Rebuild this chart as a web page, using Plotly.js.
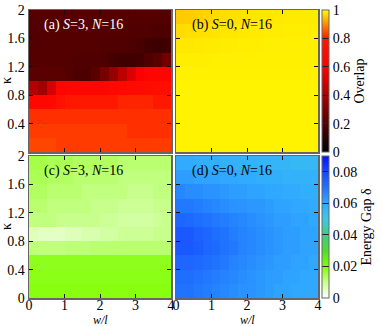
<!DOCTYPE html>
<html>
<head>
<meta charset="utf-8">
<script src="https://cdn.plot.ly/plotly-3.0.1.min.js"></script>
<style>
  html, body { margin: 0; padding: 0; background: #fff; }
  #chart { width: 382px; height: 326px; }
</style>
</head>
<body>
<div id="chart"></div>
<script>
// cell centres: w/l (16 columns) and kappa (10 rows)
const wl = [0.125, 0.375, 0.625, 0.875, 1.125, 1.375, 1.625, 1.875,
            2.125, 2.375, 2.625, 2.875, 3.125, 3.375, 3.625, 3.875];
const kappa = [0.1, 0.3, 0.5, 0.7, 0.9, 1.1, 1.3, 1.5, 1.7, 1.9];

// (a) overlap, S=3 (rows from kappa=0.1 up to 1.9)
const overlapS3 = [
  [0.84,0.84,0.84,0.83,0.83,0.83,0.83,0.83,0.83,0.83,0.83,0.83,0.83,0.83,0.83,0.83],
  [0.83,0.83,0.83,0.83,0.83,0.83,0.83,0.83,0.83,0.83,0.83,0.82,0.82,0.82,0.82,0.82],
  [0.82,0.82,0.82,0.82,0.82,0.82,0.82,0.82,0.82,0.82,0.82,0.82,0.82,0.82,0.82,0.82],
  [0.66,0.66,0.67,0.74,0.79,0.80,0.80,0.80,0.80,0.80,0.81,0.81,0.81,0.81,0.80,0.80],
  [0.42,0.38,0.50,0.64,0.66,0.66,0.66,0.66,0.66,0.67,0.67,0.68,0.68,0.70,0.72,0.72],
  [0.21,0.21,0.21,0.21,0.20,0.18,0.18,0.21,0.28,0.35,0.44,0.52,0.60,0.63,0.64,0.64],
  [0.20,0.20,0.20,0.20,0.20,0.19,0.19,0.19,0.18,0.16,0.15,0.15,0.16,0.19,0.21,0.27],
  [0.20,0.20,0.20,0.20,0.20,0.20,0.20,0.20,0.19,0.19,0.19,0.18,0.17,0.15,0.14,0.15],
  [0.20,0.20,0.20,0.20,0.20,0.20,0.20,0.20,0.20,0.20,0.20,0.19,0.19,0.19,0.18,0.18],
  [0.20,0.20,0.20,0.20,0.20,0.20,0.20,0.20,0.20,0.20,0.20,0.20,0.20,0.20,0.20,0.20]
];

// (b) overlap, S=0
const overlapS0 = [
  [0.99,0.99,0.99,0.99,0.99,0.99,0.99,0.99,0.99,0.99,0.99,0.99,0.99,0.99,0.99,0.99],
  [0.99,0.99,0.99,0.99,0.99,0.99,0.99,0.99,0.99,0.99,0.99,0.99,0.99,0.99,0.99,0.99],
  [0.99,0.99,0.99,0.99,0.99,0.99,0.99,0.99,0.99,0.99,0.99,0.99,0.99,0.99,0.99,0.99],
  [0.99,0.99,0.99,0.99,0.99,0.99,0.99,0.99,0.99,0.99,0.99,0.99,0.99,0.99,0.99,0.99],
  [0.99,0.99,0.99,0.99,0.99,0.99,0.99,0.99,0.99,0.99,0.99,0.99,0.99,0.99,0.99,0.99],
  [0.988,0.988,0.988,0.988,0.988,0.988,0.988,0.988,0.988,0.988,0.988,0.988,0.988,0.988,0.988,0.988],
  [0.985,0.985,0.985,0.985,0.986,0.986,0.986,0.986,0.987,0.987,0.987,0.987,0.987,0.987,0.987,0.987],
  [0.98,0.98,0.981,0.982,0.983,0.984,0.984,0.985,0.985,0.985,0.986,0.986,0.986,0.986,0.986,0.986],
  [0.97,0.971,0.973,0.975,0.977,0.979,0.98,0.981,0.982,0.983,0.984,0.984,0.985,0.985,0.985,0.985],
  [0.955,0.956,0.96,0.964,0.968,0.971,0.974,0.976,0.978,0.979,0.98,0.981,0.982,0.983,0.983,0.983]
];

// (c) energy gap, S=3
const gapS3 = [
  [0.019,0.019,0.019,0.019,0.019,0.019,0.019,0.019,0.019,0.019,0.019,0.019,0.019,0.019,0.019,0.019],
  [0.0185,0.0185,0.0185,0.0185,0.0185,0.0185,0.0185,0.0185,0.0185,0.0185,0.0185,0.0185,0.0185,0.0185,0.0185,0.0185],
  [0.018,0.018,0.018,0.018,0.018,0.018,0.018,0.018,0.018,0.018,0.018,0.018,0.018,0.018,0.018,0.018],
  [0.0115,0.011,0.011,0.011,0.0115,0.0115,0.0115,0.012,0.012,0.012,0.012,0.012,0.012,0.012,0.012,0.012],
  [0.006,0.005,0.005,0.005,0.006,0.006,0.007,0.007,0.008,0.008,0.009,0.009,0.009,0.009,0.010,0.010],
  [0.011,0.011,0.011,0.010,0.010,0.010,0.010,0.010,0.009,0.009,0.008,0.008,0.008,0.008,0.009,0.010],
  [0.012,0.012,0.011,0.011,0.011,0.011,0.011,0.010,0.010,0.010,0.009,0.009,0.009,0.009,0.010,0.010],
  [0.013,0.013,0.012,0.012,0.012,0.012,0.011,0.011,0.011,0.011,0.011,0.010,0.010,0.010,0.011,0.011],
  [0.014,0.014,0.013,0.013,0.013,0.012,0.012,0.012,0.012,0.012,0.011,0.011,0.011,0.011,0.011,0.011],
  [0.015,0.015,0.014,0.014,0.014,0.013,0.013,0.013,0.013,0.013,0.012,0.012,0.012,0.012,0.012,0.012]
];

// (d) energy gap, S=0
const gapS0 = [
  [0.070,0.070,0.069,0.068,0.067,0.066,0.065,0.064,0.064,0.063,0.062,0.061,0.061,0.060,0.060,0.060],
  [0.071,0.071,0.070,0.069,0.068,0.067,0.066,0.065,0.064,0.063,0.062,0.062,0.061,0.061,0.060,0.060],
  [0.073,0.073,0.072,0.071,0.070,0.069,0.067,0.066,0.065,0.064,0.063,0.062,0.062,0.061,0.061,0.060],
  [0.076,0.076,0.075,0.073,0.072,0.070,0.069,0.067,0.066,0.065,0.064,0.063,0.062,0.062,0.061,0.061],
  [0.076,0.076,0.074,0.073,0.071,0.070,0.068,0.067,0.066,0.065,0.064,0.063,0.062,0.062,0.061,0.061],
  [0.073,0.072,0.071,0.070,0.069,0.068,0.067,0.066,0.065,0.064,0.063,0.062,0.062,0.061,0.061,0.060],
  [0.069,0.069,0.068,0.067,0.066,0.065,0.064,0.064,0.063,0.063,0.062,0.061,0.061,0.060,0.060,0.059],
  [0.066,0.065,0.065,0.064,0.064,0.063,0.062,0.062,0.061,0.061,0.060,0.060,0.059,0.059,0.058,0.058],
  [0.062,0.062,0.061,0.061,0.061,0.060,0.060,0.059,0.059,0.058,0.058,0.058,0.057,0.057,0.057,0.057],
  [0.059,0.059,0.058,0.058,0.058,0.057,0.057,0.057,0.057,0.056,0.056,0.056,0.056,0.055,0.055,0.055]
];

const panelLabels = [
  '(a) <i>S</i>=3, <i>N</i>=16',
  '(b) <i>S</i>=0, <i>N</i>=16',
  '(c) <i>S</i>=3, <i>N</i>=16',
  '(d) <i>S</i>=0, <i>N</i>=16'
];
const overlapTicks = [0, 0.2, 0.4, 0.6, 0.8, 1];
const gapTicks = [0, 0.02, 0.04, 0.06, 0.08];

const W = 382, H = 326;
const SERIF = 'Liberation Serif, Times New Roman, serif';
const px = v => v / W;
const py = v => 1 - v / H;

const overlapScale = [
  [0, 'rgb(0,0,0)'], [0.6, 'rgb(255,0,0)'], [0.8, 'rgb(255,24,0)'], [1, 'rgb(255,255,0)']
];
const gapScale = [
  [0, 'rgb(255,255,255)'], [0.111, 'rgb(200,255,140)'], [0.222, 'rgb(128,255,0)'],
  [0.333, 'rgb(80,220,50)'], [0.444, 'rgb(64,205,130)'], [0.556, 'rgb(60,200,235)'],
  [0.667, 'rgb(48,168,255)'], [0.778, 'rgb(32,115,255)'], [0.889, 'rgb(22,72,255)'],
  [1, 'rgb(0,20,255)']
];

function heat(z, n, ca) {
  return {
    type: 'heatmap', x: wl, y: kappa, z: z,
    xaxis: n === 1 ? 'x' : 'x' + n, yaxis: n === 1 ? 'y' : 'y' + n,
    coloraxis: ca, hoverinfo: 'skip'
  };
}

const traces = [
  heat(overlapS3, 1, 'coloraxis'),
  heat(overlapS0, 2, 'coloraxis'),
  heat(gapS3, 3, 'coloraxis2'),
  heat(gapS0, 4, 'coloraxis2')
];

const tickFont = {family: SERIF, size: 14, color: '#000'};

function xax(dom, showLabels, anchor) {
  return {
    domain: dom, anchor: anchor, range: [0, 4],
    tickvals: [0, 1, 2, 3, 4], showticklabels: showLabels,
    ticks: 'inside', ticklen: 4, tickcolor: '#111', tickwidth: 1,
    ticklabelstandoff: -6,
    showline: true, mirror: 'ticks', linecolor: '#666', linewidth: 1.5,
    showgrid: false, zeroline: false, tickfont: tickFont
  };
}
function yax(dom, showLabels, anchor, vals) {
  return {
    domain: dom, anchor: anchor, range: [0, 2],
    tickvals: vals, showticklabels: showLabels,
    ticks: 'inside', ticklen: 4, tickcolor: '#111', tickwidth: 1,
    showline: true, mirror: 'ticks', linecolor: '#666', linewidth: 1.5,
    showgrid: false, zeroline: false, tickfont: tickFont
  };
}

const colL = [px(29), px(171)], colR = [px(176), px(318)];
const rowT = [py(152), py(10)], rowB = [py(298), py(156)];
const topVals = [0.4, 0.8, 1.2, 1.6, 2];
const botVals = [0, 0.4, 0.8, 1.2, 1.6, 2];

function cbar(title, vals, yMid) {
  return {
    x: px(322), xanchor: 'left', xpad: 0, ypad: 0,
    y: yMid, yanchor: 'middle', len: 142 / H, lenmode: 'fraction',
    thickness: 7, thicknessmode: 'pixels',
    outlinewidth: 1, outlinecolor: '#666',
    ticks: 'inside', ticklen: 7, tickcolor: '#222', tickwidth: 1,
    tickvals: vals, tickfont: tickFont,
    title: {text: title, side: 'right', font: {family: SERIF, size: 14, color: '#000'}}
  };
}

const labelPos = [[42, 25], [190, 25], [42, 171], [190, 171]];
const annotations = panelLabels.map((t, i) => ({
  xref: 'paper', yref: 'paper', x: px(labelPos[i][0]), y: py(labelPos[i][1]),
  xanchor: 'left', yanchor: 'middle', showarrow: false, text: t,
  font: {family: SERIF, size: 14, color: i === 0 ? '#fff' : '#000'}
}));
[81, 227].forEach(yc => annotations.push({
  xref: 'paper', yref: 'paper', x: px(6), y: py(yc), showarrow: false,
  xanchor: 'center', yanchor: 'middle', textangle: -90, text: 'κ',
  font: {family: SERIF, size: 14, color: '#000'}
}));
[100, 247].forEach(xc => annotations.push({
  xref: 'paper', yref: 'paper', x: px(xc), y: py(319.5), showarrow: false,
  xanchor: 'center', yanchor: 'middle', text: '<i>w/l</i>',
  font: {family: SERIF, size: 12, color: '#000'}
}));

const layout = {
  width: W, height: H,
  margin: {l: 0, r: 0, t: 0, b: 0},
  font: {family: SERIF, size: 14, color: '#000'},
  paper_bgcolor: '#fff', plot_bgcolor: '#fff',
  showlegend: false,
  xaxis: xax(colL, false, 'y'),
  yaxis: yax(rowT, true, 'x', topVals),
  xaxis2: xax(colR, false, 'y2'),
  yaxis2: yax(rowT, false, 'x2', topVals),
  xaxis3: xax(colL, true, 'y3'),
  yaxis3: yax(rowB, true, 'x3', botVals),
  xaxis4: xax(colR, true, 'y4'),
  yaxis4: yax(rowB, false, 'x4', botVals),
  coloraxis: {cmin: 0, cmax: 1, colorscale: overlapScale,
              colorbar: cbar('Overlap', overlapTicks, py(81))},
  coloraxis2: {cmin: 0, cmax: 0.09, colorscale: gapScale,
               colorbar: cbar('Energy Gap δ', gapTicks, py(227))},
  annotations: annotations
};

Plotly.newPlot('chart', traces, layout, {displayModeBar: false, staticPlot: true});
</script>
</body>
</html>
